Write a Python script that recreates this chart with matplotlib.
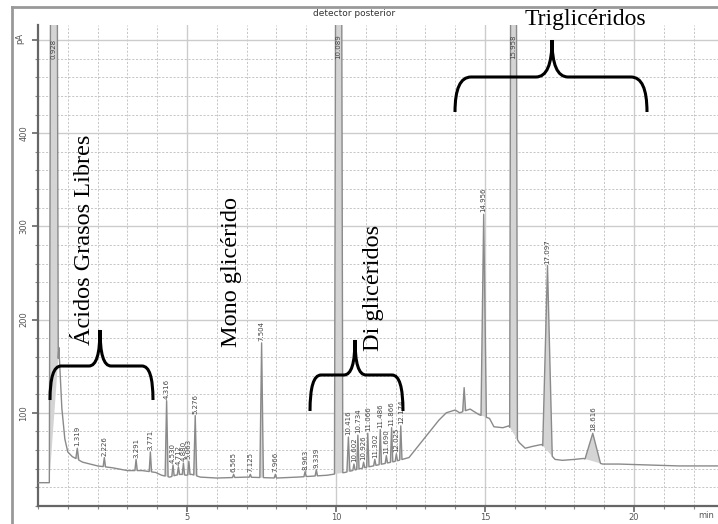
import numpy as np
import matplotlib
matplotlib.use('Agg')
import matplotlib.pyplot as plt
from matplotlib.path import Path
from matplotlib.patches import PathPatch

# chromatogram background signal (min, pA)
baseline_t = [0.0, 0.45, 0.70, 0.80, 0.90, 1.00, 1.15, 1.50, 2.00, 2.50, 3.00, 3.50,
              3.95, 4.15, 4.42, 4.62, 4.80, 4.97, 5.15, 5.45, 6.00, 7.00, 8.00, 8.70,
              9.20, 9.70, 10.30, 10.80, 11.40, 12.00, 12.45, 13.00, 13.45, 13.70, 14.00,
              14.15, 14.50, 14.80, 15.15, 15.30, 15.60, 15.80, 16.15, 16.35, 16.60, 16.90,
              17.35, 17.60, 18.00, 18.30, 18.95, 19.50, 20.50, 21.50, 22.80]
baseline_pA = [25, 25, 170, 105, 72, 58, 53, 47, 43, 41, 38, 38,
               36, 33, 31, 33, 34, 33, 34, 31, 30, 31, 30, 31,
               32, 33, 36, 40, 44, 48, 52, 74, 92, 100, 103,
               100, 104, 98, 94, 85, 84, 86, 68, 62, 64, 66,
               50, 49, 50, 51, 45, 45, 44, 43, 43]

# peaks: retention time, apex height, half width at base, printed label
peak_rt = [0.53, 1.319, 2.226, 3.291, 3.771, 4.316, 4.530, 4.712, 4.880, 5.063, 5.276,
           6.565, 7.125, 7.504, 7.966, 8.963, 9.339, 10.089, 10.416, 10.602, 10.734,
           10.926, 11.066, 11.302, 11.486, 11.690, 11.866, 12.025, 12.174, 14.30,
           14.956, 15.958, 17.097, 18.616]
peak_pA = [2000, 62, 52, 50, 58, 113, 44, 42, 46, 48, 97,
           34, 34, 175, 34, 37, 39, 2000, 74, 45, 76,
           47, 78, 50, 82, 54, 84, 56, 86, 127,
           313, 2000, 258, 78]
peak_hw = [0.15, 0.05, 0.04, 0.04, 0.04, 0.05, 0.04, 0.04, 0.04, 0.04, 0.05,
           0.04, 0.04, 0.06, 0.04, 0.04, 0.04, 0.14, 0.05, 0.04, 0.04,
           0.04, 0.04, 0.04, 0.04, 0.04, 0.04, 0.04, 0.04, 0.05,
           0.09, 0.13, 0.16, 0.26]
peak_label = ['0.928', '1.319', '2.226', '3.291', '3.771', '4.316', '4.530', '4.712', '4.880',
              '5.063', '5.276', '6.565', '7.125', '7.504', '7.966', '8.963', '9.339',
              '10.089', '10.416', '10.602', '10.734', '10.926', '11.066', '11.302',
              '11.486', '11.690', '11.866', '12.025', '12.174', '',
              '14.956', '15.958', '17.097', '18.616']

W, H = 718, 524
fig = plt.figure(figsize=(W / 100, H / 100), dpi=100)
ax = fig.add_axes([38 / W, (H - 506) / H, (W - 38) / W, (506 - 25) / H])
ax.set_xlim(0, (W - 38) / 29.8)
ax.set_ylim(0, (506 - 25) / 0.932)

# build the trace: baseline with the peak triangles put in
pts = [(t, v) for t, v in zip(baseline_t, baseline_pA)
       if not any(abs(t - rt) < w for rt, w in zip(peak_rt, peak_hw))]
for rt, h, w in zip(peak_rt, peak_pA, peak_hw):
    b0 = np.interp(rt - w, baseline_t, baseline_pA)
    b1 = np.interp(rt + w, baseline_t, baseline_pA)
    pts += [(rt - w, b0), (rt, h), (rt + w, b1)]
    ax.fill([rt - w, rt, rt + w], [b0, h, b1], color='#d4d4d4', lw=0, zorder=2)
pts.sort()
trace_t = [p[0] for p in pts]
trace_v = [p[1] for p in pts]
ax.plot(trace_t, trace_v, color='#8a8a8a', lw=1.0, zorder=3)

for rt, h, lab in zip(peak_rt, peak_pA, peak_label):
    if lab:
        ax.text(rt, min(h, 478) + 2, lab, rotation=90, ha='center', va='bottom',
                fontsize=5.0, color='#444444', zorder=4)

# axes styling like the instrument printout
for s in ['top', 'right']:
    ax.spines[s].set_visible(False)
for s in ['left', 'bottom']:
    ax.spines[s].set_color('#666666')
    ax.spines[s].set_linewidth(1.6)
ax.set_xticks([5, 10, 15, 20])
ax.set_xticks(np.arange(0, 23, 1), minor=True)
ax.set_yticks([100, 200, 300, 400, 500])
ax.set_yticklabels(['100', '200', '300', '400', ''])
ax.set_yticks(np.arange(0, 520, 20), minor=True)
ax.grid(which='major', color='#cccccc', lw=1.0, ls='-', zorder=0)
ax.grid(which='minor', color='#bdbdbd', lw=0.6, ls=(0, (2.5, 2)), zorder=0)
ax.tick_params(which='major', direction='out', length=4, width=1.2, color='#666666',
               labelsize=6, labelcolor='#555555', pad=1)
ax.tick_params(which='minor', direction='out', length=2.5, width=0.8, color='#888888')
ax.tick_params(axis='y', which='major', pad=3)
for lab in ax.get_yticklabels():
    lab.set_rotation(90)
    lab.set_va('center')

fig.text(20 / W, 1 - 38 / H, 'pA', rotation=90, fontsize=6, color='#555555',
         ha='center', va='center')
fig.text(706 / W, 1 - 515 / H, 'min', fontsize=6, color='#555555', ha='center', va='center')
fig.text(354 / W, 1 - 14 / H, 'detector posterior', fontsize=6.5, color='#333333',
         ha='center', va='center')

# outer frame of the screenshot
fig.add_artist(plt.Line2D([12 / W, 1], [1 - 7 / H, 1 - 7 / H], transform=fig.transFigure,
                          color='#999999', lw=2))
fig.add_artist(plt.Line2D([12 / W, 12 / W], [0, 1 - 7 / H], transform=fig.transFigure,
                          color='#999999', lw=2))

serif = 'Liberation Serif'
fig.text(585 / W, 1 - 19 / H, 'Triglicéridos', fontsize=17, family=serif, ha='center', va='center')
fig.text(84 / W, 1 - 240 / H, 'Ácidos Grasos Libres', fontsize=17.5, family=serif,
         rotation=90, ha='center', va='center')
fig.text(231 / W, 1 - 272 / H, 'Mono glicérido', fontsize=17.5, family=serif,
         rotation=90, ha='center', va='center')
fig.text(373 / W, 1 - 288 / H, 'Di glicéridos', fontsize=17.5, family=serif,
         rotation=90, ha='center', va='center')


def brace(x0, x1, xt, y_end, y_h, y_tip, r):
    # curly brace in pixel coords, opening downward
    v = [(x0, y_end), (x0, y_h), (x0 + r, y_h), (xt - r, y_h), (xt, y_h), (xt, y_tip),
         (xt, y_h), (xt + r, y_h), (x1 - r, y_h), (x1, y_h), (x1, y_end)]
    c = [Path.MOVETO, Path.CURVE3, Path.CURVE3, Path.LINETO, Path.CURVE3, Path.CURVE3,
         Path.CURVE3, Path.CURVE3, Path.LINETO, Path.CURVE3, Path.CURVE3]
    v = [(x / W, 1 - y / H) for x, y in v]
    fig.add_artist(PathPatch(Path(v, c), transform=fig.transFigure, fill=False,
                             color='black', lw=2.2))


brace(455, 647, 552, 112, 77, 40, 16)
brace(50, 153, 100, 400, 366, 330, 11)
brace(310, 403, 355, 411, 375, 340, 11)

fig.savefig('out.png', dpi=100)
